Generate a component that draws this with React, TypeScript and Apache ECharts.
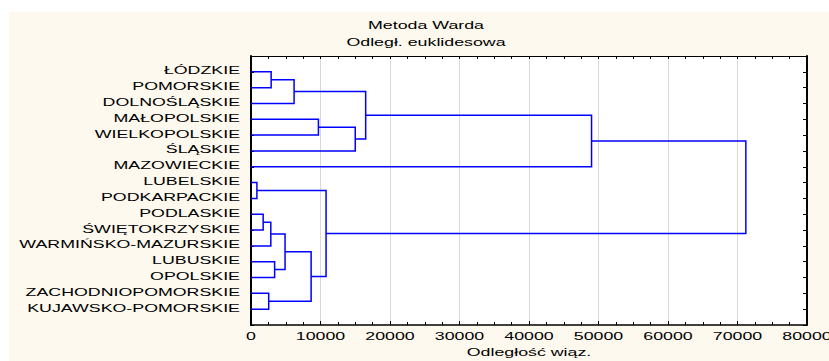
import React, { useEffect, useRef } from "react";
import * as echarts from "echarts";

const leaves = [
  "ŁÓDZKIE",
  "POMORSKIE",
  "DOLNOŚLĄSKIE",
  "MAŁOPOLSKIE",
  "WIELKOPOLSKIE",
  "ŚLĄSKIE",
  "MAZOWIECKIE",
  "LUBELSKIE",
  "PODKARPACKIE",
  "PODLASKIE",
  "ŚWIĘTOKRZYSKIE",
  "WARMIŃSKO-MAZURSKIE",
  "LUBUSKIE",
  "OPOLSKIE",
  "ZACHODNIOPOMORSKIE",
  "KUJAWSKO-POMORSKIE",
];

// merges: children indices (leaves 0..15, clusters 16+k)
const mergeLeft = [0, 16, 3, 18, 17, 20, 7, 9, 23, 12, 24, 14, 26, 22, 21];
const mergeRight = [1, 2, 4, 5, 19, 6, 8, 10, 11, 13, 25, 15, 27, 28, 29];
const mergeHeight = [2900, 6200, 9700, 15000, 16500, 49000, 850, 1750, 2850, 3400, 4900, 2550, 8650, 10800, 71200];

const xTicks = [0, 10000, 20000, 30000, 40000, 50000, 60000, 70000, 80000];

const titleLines = ["Metoda Warda", "Odległ. euklidesowa"];
const xAxisName = "Odległość wiąz.";

const FONT = '"Liberation Sans", Arial, sans-serif';
const SX = 1.78;

export default function App() {
  const ref = useRef<HTMLDivElement>(null);

  useEffect(() => {
    if (!ref.current) return;
    const chart = echarts.init(ref.current, null, { renderer: "svg" });

    const nodeY: number[] = leaves.map((_, i) => i + 1);
    const nodeH: number[] = leaves.map(() => 0);
    const links: number[][] = [];
    mergeLeft.forEach((l, k) => {
      const r = mergeRight[k];
      const h = mergeHeight[k];
      links.push([nodeH[l], nodeY[l], nodeH[r], nodeY[r], h]);
      nodeY.push((nodeY[l] + nodeY[r]) / 2);
      nodeH.push(h);
    });

    const leafData = leaves.map((name, i) => [0, i + 1, name]);
    const tickData = xTicks.map((v) => [v, 17]);

    const option: any = {
      animation: false,
      backgroundColor: "transparent",
      grid: {
        left: 251,
        top: 56,
        width: 556,
        height: 269,
        show: true,
        backgroundColor: "#ffffff",
        borderWidth: 0,
      },
      graphic: [
        {
          type: "rect",
          z: -10,
          silent: true,
          shape: { x: 9, y: 12, width: 829, height: 361 },
          style: { fill: "#fdf9ee" },
        },
        ...titleLines.map((t, i) => ({
          type: "text",
          x: 426,
          y: 26 + i * 16.5,
          scaleX: SX,
          silent: true,
          style: {
            text: t,
            fill: "#000",
            fontSize: 10,
            fontFamily: FONT,
            align: "center",
            verticalAlign: "middle",
            textAlign: "center",
            textVerticalAlign: "middle",
          },
        })),
        {
          type: "text",
          x: 529,
          y: 353,
          scaleX: SX,
          silent: true,
          style: {
            text: xAxisName,
            fill: "#000",
            fontSize: 10,
            fontFamily: FONT,
            align: "center",
            verticalAlign: "middle",
            textAlign: "center",
            textVerticalAlign: "middle",
          },
        },
      ],
      xAxis: [
        {
          type: "value",
          min: 0,
          max: 80000,
          interval: 10000,
          position: "bottom",
          axisLine: { show: true, onZero: false, lineStyle: { color: "#000", width: 1.5 } },
          axisTick: { show: true, inside: true, length: 4, lineStyle: { color: "#000" } },
          minorTick: { show: true, splitNumber: 4, length: 3, lineStyle: { color: "#000" } },
          axisLabel: { show: false },
          splitLine: { show: true, lineStyle: { color: "#d9d9d9", width: 1 } },
        },
        {
          type: "value",
          min: 0,
          max: 80000,
          interval: 10000,
          position: "top",
          axisLine: { show: true, onZero: false, lineStyle: { color: "#000", width: 1 } },
          axisTick: { show: true, inside: true, length: 3, lineStyle: { color: "#000" } },
          minorTick: { show: true, splitNumber: 4, length: 3, lineStyle: { color: "#000" } },
          axisLabel: { show: false },
          splitLine: { show: false },
        },
      ],
      yAxis: [
        {
          type: "value",
          min: 0,
          max: 17,
          interval: 1,
          inverse: true,
          position: "left",
          axisLine: { show: true, onZero: false, lineStyle: { color: "#000", width: 2 } },
          axisTick: { show: true, inside: true, length: 3, lineStyle: { color: "#000" } },
          axisLabel: { show: false },
          splitLine: { show: false },
        },
        {
          type: "value",
          min: 0,
          max: 17,
          interval: 1,
          inverse: true,
          position: "right",
          axisLine: { show: true, onZero: false, lineStyle: { color: "#000", width: 2 } },
          axisTick: { show: true, inside: true, length: 4, lineStyle: { color: "#000" } },
          axisLabel: { show: false },
          splitLine: { show: false },
        },
      ],
      series: [
        {
          type: "custom",
          name: "links",
          xAxisIndex: 0,
          yAxisIndex: 0,
          silent: true,
          clip: false,
          data: links,
          encode: { x: [0, 2, 4], y: [1, 3] },
          renderItem: (params: any, api: any) => {
            const hL = api.value(0);
            const yL = api.value(1);
            const hR = api.value(2);
            const yR = api.value(3);
            const h = api.value(4);
            const p1 = api.coord([hL, yL]);
            const p2 = api.coord([h, yL]);
            const p3 = api.coord([h, yR]);
            const p4 = api.coord([hR, yR]);
            return {
              type: "polyline",
              shape: { points: [p1, p2, p3, p4] },
              style: { stroke: "#0000ff", lineWidth: 1.5, fill: null },
            };
          },
        },
        {
          type: "custom",
          name: "leafLabels",
          xAxisIndex: 0,
          yAxisIndex: 0,
          silent: true,
          clip: false,
          data: leafData,
          dimensions: ["x", "y", "name"],
          encode: { x: 0, y: 1 },
          renderItem: (params: any, api: any) => {
            const p = api.coord([api.value(0), api.value(1)]);
            return {
              type: "text",
              x: p[0] - 11,
              y: p[1] - 1,
              scaleX: SX,
              style: {
                text: leaves[params.dataIndex],
                fill: "#000",
                fontSize: 10,
                fontFamily: FONT,
                align: "right",
                verticalAlign: "middle",
                textAlign: "right",
                textVerticalAlign: "middle",
              },
            };
          },
        },
        {
          type: "custom",
          name: "xTickLabels",
          xAxisIndex: 0,
          yAxisIndex: 0,
          silent: true,
          clip: false,
          data: tickData,
          encode: { x: 0, y: 1 },
          renderItem: (params: any, api: any) => {
            const v = api.value(0);
            const p = api.coord([v, api.value(1)]);
            return {
              type: "text",
              x: p[0],
              y: p[1] + 11.5,
              scaleX: SX,
              style: {
                text: String(xTicks[params.dataIndex]),
                fill: "#000",
                fontSize: 10,
                fontFamily: FONT,
                align: "center",
                verticalAlign: "middle",
                textAlign: "center",
                textVerticalAlign: "middle",
              },
            };
          },
        },
      ],
    };

    chart.setOption(option);
    return () => chart.dispose();
  }, []);

  return (
    <div
      ref={ref}
      style={{ position: "absolute", left: 0, top: 0, width: 829, height: 361 }}
    />
  );
}
